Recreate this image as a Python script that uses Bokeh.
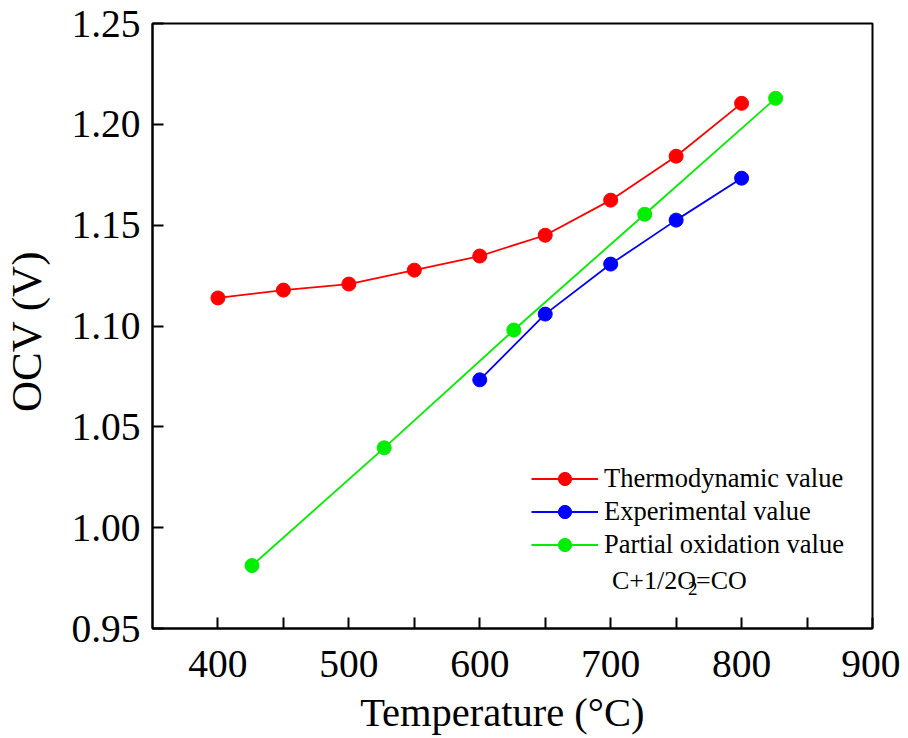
from bokeh.plotting import figure
from bokeh.models import FixedTicker, PrintfTickFormatter, Range1d, Legend, LegendItem, Label
from bokeh.embed import file_html
from bokeh.resources import INLINE

# Data
thermo_T = [400, 450, 500, 550, 600, 650, 700, 750, 800]
thermo_V = [1.1139, 1.1178, 1.1208, 1.1277, 1.1347, 1.1450, 1.1624, 1.1842, 1.2104]
exp_T = [600, 650, 700, 750, 800]
exp_V = [1.0733, 1.1059, 1.1307, 1.1525, 1.1733]
pox_T = [426, 527, 626, 726, 826]
pox_V = [0.9812, 1.0396, 1.0980, 1.1554, 1.2129]

x_ticks = [400, 500, 600, 700, 800, 900]
x_minor = [450, 550, 650, 750, 850]
y_ticks = [0.95, 1.00, 1.05, 1.10, 1.15, 1.20, 1.25]

FONT = "Liberation Serif"
NB = "\u00a0"

p = figure(frame_width=720, frame_height=605, output_backend="svg", toolbar_location=None,
           x_range=Range1d(350, 900), y_range=Range1d(0.95, 1.25),
           min_border_left=144, min_border_right=28, min_border_top=23, min_border_bottom=100)
p.grid.visible = False
p.outline_line_color = "black"
p.outline_line_width = 2
p.background_fill_color = "white"
p.border_fill_color = "white"

for ax in (p.xaxis[0], p.yaxis[0]):
    ax.axis_line_width = 2
    ax.major_tick_line_width = 2
    ax.minor_tick_line_width = 2
    ax.major_tick_in = 11
    ax.major_tick_out = 0
    ax.major_label_text_font = FONT
    ax.major_label_text_font_size = "39.5px"
    ax.major_label_text_color = "black"
    ax.axis_label_text_font = FONT
    ax.axis_label_text_font_style = "normal"
    ax.axis_label_text_color = "black"

p.xaxis.ticker = FixedTicker(ticks=x_ticks, minor_ticks=x_minor)
p.xaxis.minor_tick_in = 11
p.xaxis.minor_tick_out = 0
p.xaxis.major_label_standoff = 22
p.xaxis.axis_label = "Temperature (°C)" + NB + NB
p.xaxis.axis_label_text_font_size = "40.5px"
p.xaxis.axis_label_standoff = 10

p.yaxis.ticker = FixedTicker(ticks=y_ticks, minor_ticks=[])
p.yaxis.minor_tick_in = 0
p.yaxis.minor_tick_out = 0
p.yaxis.formatter = PrintfTickFormatter(format="%.2f")
p.yaxis.major_label_standoff = 12
p.yaxis.axis_label = "OCV (V)" + NB
p.yaxis.axis_label_text_font_size = "43px"
p.yaxis.axis_label_standoff = 18

series = [
    ("Thermodynamic value", thermo_T, thermo_V, "#ff0000"),
    ("Experimental value", exp_T, exp_V, "#0000ff"),
    ("Partial oxidation value", pox_T, pox_V, "#00ee00"),
]
items = []
for name, xs, ys, col in series:
    l = p.line(xs, ys, line_color=col, line_width=1.8)
    s = p.scatter(xs, ys, size=14, fill_color=col, line_color=col)
    items.append(LegendItem(label=name, renderers=[l, s]))

legend = Legend(items=items, location=(379, 67), glyph_width=67, glyph_height=33,
                label_height=33, spacing=0, padding=0, margin=0, label_standoff=6,
                border_line_color=None, background_fill_alpha=0,
                label_text_font=FONT, label_text_font_size="26.5px", label_text_color="black")
p.add_layout(legend, "center")

eq_x, eq_y = 701, 0.974
p.add_layout(Label(x=eq_x, y=eq_y, text="C+1/2O", text_font=FONT, text_font_size="26px",
                   text_baseline="middle", text_color="black"))
p.add_layout(Label(x=eq_x, y=eq_y, x_offset=76, y_offset=-8, text="2", text_font=FONT,
                   text_font_size="19px", text_baseline="middle", text_color="black"))
p.add_layout(Label(x=eq_x, y=eq_y, x_offset=84, text="=CO", text_font=FONT,
                   text_font_size="26px", text_baseline="middle", text_color="black"))

open("out.html", "w").write(file_html(p, INLINE))
